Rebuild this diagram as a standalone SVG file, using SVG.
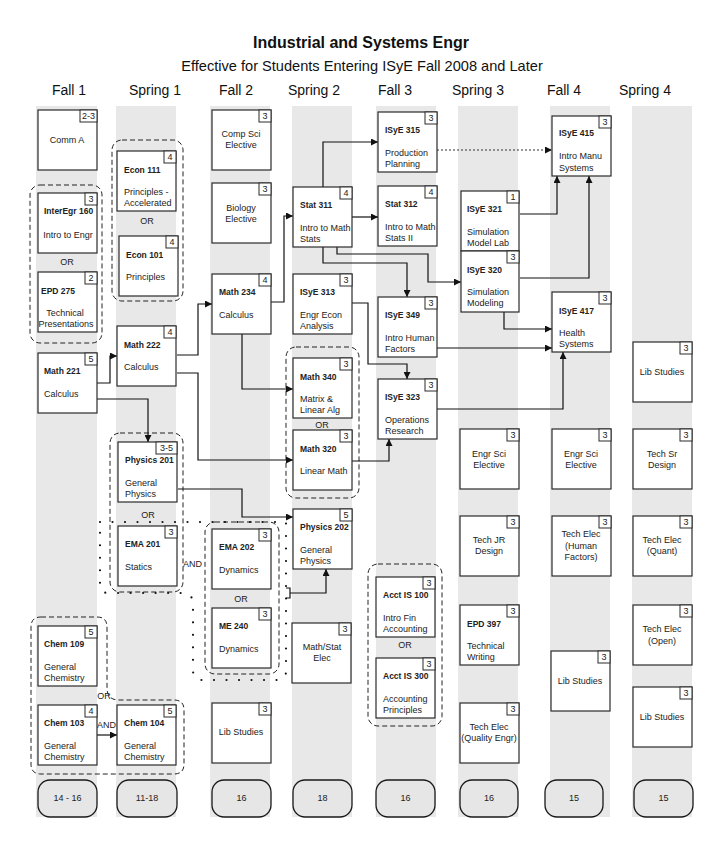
<svg xmlns="http://www.w3.org/2000/svg" width="719" height="859" viewBox="0 0 719 859">
  <defs>
    <style>
      .band{fill:#e8e8e8}
      .box{fill:#fff;stroke:#2a2a2a;stroke-width:1.2}
      .badge{fill:#fff;stroke:#2a2a2a;stroke-width:1}
      .cred{fill:#e6e6e6;stroke:#1a1a1a;stroke-width:1.3}
      .grp{fill:none;stroke:#222;stroke-width:1;stroke-dasharray:5 3}
      .and{fill:none;stroke:#111;stroke-width:2.2;stroke-linecap:round;stroke-dasharray:0 12.5}
      .t{font-family:"Liberation Sans",Arial,sans-serif;font-size:9px;fill:#222}
      .b{font-weight:bold;font-size:8.5px}
      .c{text-anchor:middle}
      .hd{font-family:"Liberation Sans",Arial,sans-serif;fill:#111}
      .wire{fill:none;stroke:#111;stroke-width:1.2}
      .dotted{fill:none;stroke:#333;stroke-width:1;stroke-dasharray:2 2}
    </style>
    <marker id="arr" viewBox="0 0 10 10" refX="10" refY="5" markerWidth="8" markerHeight="7" orient="auto" markerUnits="userSpaceOnUse">
      <path d="M0,0 L10,5 L0,10 z" fill="#111"/>
    </marker>
  </defs>
  <rect width="719" height="859" fill="#fff"/>

  <!-- headings -->
  <text class="hd b c" x="361" y="48" font-size="16" style="font-size:16px">Industrial and Systems Engr</text>
  <text class="hd c" x="362" y="71" font-size="14.6">Effective for Students Entering ISyE Fall 2008 and Later</text>
  <g class="hd c" font-size="14">
    <text x="69" y="95">Fall 1</text>
    <text x="155" y="95">Spring 1</text>
    <text x="236" y="95">Fall 2</text>
    <text x="314" y="95">Spring 2</text>
    <text x="395" y="95">Fall 3</text>
    <text x="478" y="95">Spring 3</text>
    <text x="564" y="95">Fall 4</text>
    <text x="645" y="95">Spring 4</text>
  </g>

  <!-- semester bands -->
  <g id="bands">
    <rect class="band" x="36" y="106" width="61" height="711"/>
    <rect class="band" x="116" y="106" width="60" height="711"/>
    <rect class="band" x="210" y="106" width="60" height="711"/>
    <rect class="band" x="292" y="106" width="60" height="711"/>
    <rect class="band" x="376" y="106" width="60" height="711"/>
    <rect class="band" x="458" y="106" width="60" height="711"/>
    <rect class="band" x="550" y="106" width="60" height="711"/>
    <rect class="band" x="632" y="106" width="60" height="711"/>
  </g>

  <!-- choice groups -->
  <g id="groups">
    <rect class="grp" x="30" y="185" width="72" height="158" rx="10"/>
    <rect class="grp" x="112" y="140" width="71" height="161" rx="10"/>
    <rect class="grp" x="110" y="433" width="73" height="159" rx="10"/>
    <rect class="grp" x="205" y="522" width="74" height="152" rx="10"/>
    <rect class="grp" x="286" y="347" width="73" height="151" rx="10"/>
    <rect class="grp" x="368" y="564" width="74" height="162" rx="10"/>
    <path class="grp" d="M41,617 H97 Q107,617 107,627 V688 Q107,700 119,700 H174 Q184,700 184,710 V764 Q184,774 174,774 H41 Q31,774 31,764 V627 Q31,617 41,617 Z"/>
    <path class="and" d="M100,522 H286 V671 Q286,680 277,680 H202 Q193,680 193,670 V605 Q193,593 183,593 H108 Q100,593 100,585 Z"/>
    <g class="t c">
      <text x="67" y="265">OR</text>
      <text x="147" y="224">OR</text>
      <text x="148" y="518">OR</text>
      <text x="241" y="602">OR</text>
      <text x="322" y="428">OR</text>
      <text x="405" y="648">OR</text>
      <text x="104" y="699">OR</text>
    </g>
    <text class="t" x="97" y="728">AND</text>
    <text class="t" x="183" y="567">AND</text>
  </g>

  <!-- connectors -->
  <g id="connectors">
    <path class="wire" d="M97,383 H110 V356 H117" marker-end="url(#arr)"/>
    <path class="wire" d="M97,399 H148 V442" marker-end="url(#arr)"/>
    <path class="wire" d="M177,355 H198 V304 H212" marker-end="url(#arr)"/>
    <path class="wire" d="M177,373 H198 V460 H293" marker-end="url(#arr)"/>
    <path class="wire" d="M242,334 V389 H293" marker-end="url(#arr)"/>
    <path class="wire" d="M178,489 H242 V517 H293" marker-end="url(#arr)"/>
    <path class="wire" d="M271,302 H284 V216 H293" marker-end="url(#arr)"/>
    <path class="wire" d="M323,187 V142 H378" marker-end="url(#arr)"/>
    <path class="wire" d="M352,217 H378" marker-end="url(#arr)"/>
    <path class="wire" d="M323,247 V263 H407 V297" marker-end="url(#arr)"/>
    <path class="wire" d="M337,247 V254 H428 V282 H461" marker-end="url(#arr)"/>
    <path class="wire" d="M352,303 H368 V364 H407 V379" marker-end="url(#arr)"/>
    <path class="wire" d="M352,461 H389 V439" marker-end="url(#arr)"/>
    <path class="dotted" d="M437,150 H552" marker-end="url(#arr)"/>
    <path class="wire" d="M520,214 H557 V176" marker-end="url(#arr)"/>
    <path class="wire" d="M520,278 H589 V176" marker-end="url(#arr)"/>
    <path class="wire" d="M504,312 V329 H552" marker-end="url(#arr)"/>
    <path class="wire" d="M437,348 H552" marker-end="url(#arr)"/>
    <path class="wire" d="M437,409 H563 V352" marker-end="url(#arr)"/>
    <path class="wire" d="M286,588 H290 V598 H286 M290,593 H326 V569" marker-end="url(#arr)"/>
    <path class="wire" d="M97,735 H117" marker-end="url(#arr)"/>
  </g>

  <!-- Fall 1 -->
  <g id="comm-a">
    <rect class="box" x="38" y="110" width="59" height="60"/>
    <rect class="badge" x="80" y="110" width="17" height="12"/>
    <text class="t c" x="88.5" y="119">2-3</text>
    <text class="t c" x="67" y="143">Comm A</text>
  </g>
  <g id="interegr-160">
    <rect class="box" x="38" y="193" width="59" height="60"/>
    <rect class="badge" x="85" y="193" width="12" height="12"/>
    <text class="t c" x="91" y="202">3</text>
    <text class="t b" x="44" y="214">InterEgr 160</text>
    <text class="t c" x="68" y="238">Intro to Engr</text>
  </g>
  <g id="epd-275">
    <rect class="box" x="38" y="272" width="59" height="60"/>
    <rect class="badge" x="85" y="272" width="12" height="12"/>
    <text class="t c" x="91" y="281">2</text>
    <text class="t b" x="41" y="294">EPD 275</text>
    <text class="t c" x="65" y="316">Technical</text>
    <text class="t c" x="66" y="327">Presentations</text>
  </g>
  <g id="math-221">
    <rect class="box" x="38" y="353" width="59" height="60"/>
    <rect class="badge" x="85" y="353" width="12" height="12"/>
    <text class="t c" x="91" y="362">5</text>
    <text class="t b" x="44" y="374">Math 221</text>
    <text class="t" x="44" y="397">Calculus</text>
  </g>
  <g id="chem-109">
    <rect class="box" x="38" y="626" width="59" height="60"/>
    <rect class="badge" x="85" y="626" width="12" height="12"/>
    <text class="t c" x="91" y="635">5</text>
    <text class="t b" x="44" y="647">Chem 109</text>
    <text class="t" x="44" y="670">General</text>
    <text class="t" x="44" y="681">Chemistry</text>
  </g>
  <g id="chem-103">
    <rect class="box" x="38" y="705" width="59" height="60"/>
    <rect class="badge" x="85" y="705" width="12" height="12"/>
    <text class="t c" x="91" y="714">4</text>
    <text class="t b" x="44" y="726">Chem 103</text>
    <text class="t" x="44" y="749">General</text>
    <text class="t" x="44" y="760">Chemistry</text>
  </g>

  <!-- Spring 1 -->
  <g id="econ-111">
    <rect class="box" x="117" y="151" width="59" height="60"/>
    <rect class="badge" x="164" y="151" width="12" height="12"/>
    <text class="t c" x="170" y="160">4</text>
    <text class="t b" x="124" y="173">Econ 111</text>
    <text class="t" x="124" y="195">Principles -</text>
    <text class="t" x="124" y="206">Accelerated</text>
  </g>
  <g id="econ-101">
    <rect class="box" x="119" y="236" width="59" height="60"/>
    <rect class="badge" x="166" y="236" width="12" height="12"/>
    <text class="t c" x="172" y="245">4</text>
    <text class="t b" x="126" y="258">Econ 101</text>
    <text class="t" x="126" y="280">Principles</text>
  </g>
  <g id="math-222">
    <rect class="box" x="117" y="326" width="59" height="60"/>
    <rect class="badge" x="164" y="326" width="12" height="12"/>
    <text class="t c" x="170" y="335">4</text>
    <text class="t b" x="124" y="348">Math 222</text>
    <text class="t" x="124" y="370">Calculus</text>
  </g>
  <g id="physics-201">
    <rect class="box" x="118" y="442" width="59" height="60"/>
    <rect class="badge" x="156" y="442" width="21" height="12"/>
    <text class="t c" x="166.5" y="451">3-5</text>
    <text class="t b" x="125" y="463">Physics 201</text>
    <text class="t" x="125" y="486">General</text>
    <text class="t" x="125" y="497">Physics</text>
  </g>
  <g id="ema-201">
    <rect class="box" x="118" y="526" width="59" height="60"/>
    <rect class="badge" x="165" y="526" width="12" height="12"/>
    <text class="t c" x="171" y="535">3</text>
    <text class="t b" x="125" y="547">EMA 201</text>
    <text class="t" x="125" y="570">Statics</text>
  </g>
  <g id="chem-104">
    <rect class="box" x="117" y="705" width="59" height="60"/>
    <rect class="badge" x="164" y="705" width="12" height="12"/>
    <text class="t c" x="170" y="714">5</text>
    <text class="t b" x="124" y="726">Chem 104</text>
    <text class="t" x="124" y="749">General</text>
    <text class="t" x="124" y="760">Chemistry</text>
  </g>

  <!-- Fall 2 -->
  <g id="comp-sci-elective">
    <rect class="box" x="212" y="110" width="59" height="60"/>
    <rect class="badge" x="259" y="110" width="12" height="12"/>
    <text class="t c" x="265" y="119">3</text>
    <text class="t c" x="241" y="137">Comp Sci</text>
    <text class="t c" x="241" y="148">Elective</text>
  </g>
  <g id="biology-elective">
    <rect class="box" x="212" y="183" width="59" height="60"/>
    <rect class="badge" x="259" y="183" width="12" height="12"/>
    <text class="t c" x="265" y="192">3</text>
    <text class="t c" x="241" y="211">Biology</text>
    <text class="t c" x="241" y="222">Elective</text>
  </g>
  <g id="math-234">
    <rect class="box" x="212" y="274" width="59" height="60"/>
    <rect class="badge" x="259" y="274" width="12" height="12"/>
    <text class="t c" x="265" y="283">4</text>
    <text class="t b" x="219" y="295">Math 234</text>
    <text class="t" x="219" y="318">Calculus</text>
  </g>
  <g id="ema-202">
    <rect class="box" x="212" y="529" width="59" height="60"/>
    <rect class="badge" x="259" y="529" width="12" height="12"/>
    <text class="t c" x="265" y="538">3</text>
    <text class="t b" x="219" y="550">EMA 202</text>
    <text class="t" x="219" y="573">Dynamics</text>
  </g>
  <g id="me-240">
    <rect class="box" x="212" y="608" width="59" height="60"/>
    <rect class="badge" x="259" y="608" width="12" height="12"/>
    <text class="t c" x="265" y="617">3</text>
    <text class="t b" x="219" y="629">ME 240</text>
    <text class="t" x="219" y="652">Dynamics</text>
  </g>
  <g id="lib-studies-f2">
    <rect class="box" x="212" y="703" width="59" height="60"/>
    <rect class="badge" x="259" y="703" width="12" height="12"/>
    <text class="t c" x="265" y="712">3</text>
    <text class="t c" x="241" y="735">Lib Studies</text>
  </g>

  <!-- Spring 2 -->
  <g id="stat-311">
    <rect class="box" x="293" y="187" width="59" height="60"/>
    <rect class="badge" x="340" y="187" width="12" height="12"/>
    <text class="t c" x="346" y="196">4</text>
    <text class="t b" x="300" y="208">Stat 311</text>
    <text class="t" x="300" y="231">Intro to Math</text>
    <text class="t" x="300" y="242">Stats</text>
  </g>
  <g id="isye-313">
    <rect class="box" x="293" y="274" width="59" height="60"/>
    <rect class="badge" x="340" y="274" width="12" height="12"/>
    <text class="t c" x="346" y="283">3</text>
    <text class="t b" x="300" y="295">ISyE 313</text>
    <text class="t" x="300" y="318">Engr Econ</text>
    <text class="t" x="300" y="329">Analysis</text>
  </g>
  <g id="math-340">
    <rect class="box" x="293" y="358" width="59" height="60"/>
    <rect class="badge" x="340" y="358" width="12" height="12"/>
    <text class="t c" x="346" y="367">3</text>
    <text class="t b" x="300" y="380">Math 340</text>
    <text class="t" x="300" y="402">Matrix &amp;</text>
    <text class="t" x="300" y="413">Linear Alg</text>
  </g>
  <g id="math-320">
    <rect class="box" x="293" y="430" width="59" height="60"/>
    <rect class="badge" x="340" y="430" width="12" height="12"/>
    <text class="t c" x="346" y="439">3</text>
    <text class="t b" x="300" y="452">Math 320</text>
    <text class="t" x="300" y="474">Linear Math</text>
  </g>
  <g id="physics-202">
    <rect class="box" x="293" y="509" width="59" height="60"/>
    <rect class="badge" x="340" y="509" width="12" height="12"/>
    <text class="t c" x="346" y="518">5</text>
    <text class="t b" x="300" y="530">Physics 202</text>
    <text class="t" x="300" y="553">General</text>
    <text class="t" x="300" y="564">Physics</text>
  </g>
  <g id="math-stat-elec">
    <rect class="box" x="292" y="623" width="59" height="60"/>
    <rect class="badge" x="339" y="623" width="12" height="12"/>
    <text class="t c" x="345" y="632">3</text>
    <text class="t c" x="322" y="650">Math/Stat</text>
    <text class="t c" x="322" y="661">Elec</text>
  </g>

  <!-- Fall 3 -->
  <g id="isye-315">
    <rect class="box" x="378" y="112" width="59" height="60"/>
    <rect class="badge" x="425" y="112" width="12" height="12"/>
    <text class="t c" x="431" y="121">3</text>
    <text class="t b" x="385" y="133">ISyE 315</text>
    <text class="t" x="385" y="156">Production</text>
    <text class="t" x="385" y="167">Planning</text>
  </g>
  <g id="stat-312">
    <rect class="box" x="378" y="186" width="59" height="60"/>
    <rect class="badge" x="425" y="186" width="12" height="12"/>
    <text class="t c" x="431" y="195">4</text>
    <text class="t b" x="385" y="207">Stat 312</text>
    <text class="t" x="385" y="230">Intro to Math</text>
    <text class="t" x="385" y="241">Stats II</text>
  </g>
  <g id="isye-349">
    <rect class="box" x="378" y="297" width="59" height="60"/>
    <rect class="badge" x="425" y="297" width="12" height="12"/>
    <text class="t c" x="431" y="306">3</text>
    <text class="t b" x="385" y="318">ISyE 349</text>
    <text class="t" x="385" y="341">Intro Human</text>
    <text class="t" x="385" y="352">Factors</text>
  </g>
  <g id="isye-323">
    <rect class="box" x="378" y="379" width="59" height="60"/>
    <rect class="badge" x="425" y="379" width="12" height="12"/>
    <text class="t c" x="431" y="388">3</text>
    <text class="t b" x="385" y="400">ISyE 323</text>
    <text class="t" x="385" y="423">Operations</text>
    <text class="t" x="385" y="434">Research</text>
  </g>
  <g id="acct-is-100">
    <rect class="box" x="376" y="577" width="59" height="60"/>
    <rect class="badge" x="423" y="577" width="12" height="12"/>
    <text class="t c" x="429" y="586">3</text>
    <text class="t b" x="383" y="598">Acct IS 100</text>
    <text class="t" x="383" y="621">Intro Fin</text>
    <text class="t" x="383" y="632">Accounting</text>
  </g>
  <g id="acct-is-300">
    <rect class="box" x="376" y="658" width="59" height="60"/>
    <rect class="badge" x="423" y="658" width="12" height="12"/>
    <text class="t c" x="429" y="667">3</text>
    <text class="t b" x="383" y="679">Acct IS 300</text>
    <text class="t" x="383" y="702">Accounting</text>
    <text class="t" x="383" y="713">Principles</text>
  </g>

  <!-- Spring 3 -->
  <g id="isye-321">
    <rect class="box" x="461" y="191" width="58" height="60"/>
    <rect class="badge" x="507" y="191" width="12" height="12"/>
    <text class="t c" x="513" y="200">1</text>
    <text class="t b" x="467" y="212">ISyE 321</text>
    <text class="t" x="467" y="235">Simulation</text>
    <text class="t" x="467" y="246">Model Lab</text>
  </g>
  <g id="isye-320">
    <rect class="box" x="461" y="251" width="58" height="61"/>
    <rect class="badge" x="507" y="251" width="12" height="12"/>
    <text class="t c" x="513" y="260">3</text>
    <text class="t b" x="467" y="273">ISyE 320</text>
    <text class="t" x="467" y="295">Simulation</text>
    <text class="t" x="467" y="306">Modeling</text>
  </g>
  <g id="engr-sci-elective-s3">
    <rect class="box" x="460" y="429" width="59" height="60"/>
    <rect class="badge" x="507" y="429" width="12" height="12"/>
    <text class="t c" x="513" y="438">3</text>
    <text class="t c" x="489" y="457">Engr Sci</text>
    <text class="t c" x="489" y="468">Elective</text>
  </g>
  <g id="tech-jr-design">
    <rect class="box" x="460" y="516" width="59" height="60"/>
    <rect class="badge" x="507" y="516" width="12" height="12"/>
    <text class="t c" x="513" y="525">3</text>
    <text class="t c" x="489" y="543">Tech JR</text>
    <text class="t c" x="489" y="554">Design</text>
  </g>
  <g id="epd-397">
    <rect class="box" x="460" y="605" width="59" height="60"/>
    <rect class="badge" x="507" y="605" width="12" height="12"/>
    <text class="t c" x="513" y="614">3</text>
    <text class="t b" x="467" y="627">EPD 397</text>
    <text class="t" x="467" y="649">Technical</text>
    <text class="t" x="467" y="660">Writing</text>
  </g>
  <g id="tech-elec-quality">
    <rect class="box" x="460" y="703" width="59" height="60"/>
    <rect class="badge" x="507" y="703" width="12" height="12"/>
    <text class="t c" x="513" y="712">3</text>
    <text class="t c" x="489" y="730">Tech Elec</text>
    <text class="t c" x="489" y="741">(Quality Engr)</text>
  </g>

  <!-- Fall 4 -->
  <g id="isye-415">
    <rect class="box" x="552" y="116" width="59" height="60"/>
    <rect class="badge" x="599" y="116" width="12" height="12"/>
    <text class="t c" x="605" y="125">3</text>
    <text class="t b" x="559" y="136">ISyE 415</text>
    <text class="t" x="559" y="159">Intro Manu</text>
    <text class="t" x="559" y="171">Systems</text>
  </g>
  <g id="isye-417">
    <rect class="box" x="552" y="292" width="59" height="60"/>
    <rect class="badge" x="599" y="292" width="12" height="12"/>
    <text class="t c" x="605" y="301">3</text>
    <text class="t b" x="559" y="314">ISyE 417</text>
    <text class="t" x="559" y="336">Health</text>
    <text class="t" x="559" y="347">Systems</text>
  </g>
  <g id="engr-sci-elective-f4">
    <rect class="box" x="552" y="429" width="59" height="60"/>
    <rect class="badge" x="599" y="429" width="12" height="12"/>
    <text class="t c" x="605" y="438">3</text>
    <text class="t c" x="581" y="457">Engr Sci</text>
    <text class="t c" x="581" y="468">Elective</text>
  </g>
  <g id="tech-elec-hf">
    <rect class="box" x="552" y="516" width="59" height="60"/>
    <rect class="badge" x="599" y="516" width="12" height="12"/>
    <text class="t c" x="605" y="525">3</text>
    <text class="t c" x="581" y="537">Tech Elec</text>
    <text class="t c" x="581" y="549">(Human</text>
    <text class="t c" x="581" y="560">Factors)</text>
  </g>
  <g id="lib-studies-f4">
    <rect class="box" x="551" y="651" width="59" height="60"/>
    <rect class="badge" x="598" y="651" width="12" height="12"/>
    <text class="t c" x="604" y="660">3</text>
    <text class="t c" x="580" y="684">Lib Studies</text>
  </g>

  <!-- Spring 4 -->
  <g id="lib-studies-s4a">
    <rect class="box" x="633" y="342" width="59" height="60"/>
    <rect class="badge" x="680" y="342" width="12" height="12"/>
    <text class="t c" x="686" y="351">3</text>
    <text class="t c" x="662" y="375">Lib Studies</text>
  </g>
  <g id="tech-sr-design">
    <rect class="box" x="633" y="429" width="59" height="60"/>
    <rect class="badge" x="680" y="429" width="12" height="12"/>
    <text class="t c" x="686" y="438">3</text>
    <text class="t c" x="662" y="457">Tech Sr</text>
    <text class="t c" x="662" y="468">Design</text>
  </g>
  <g id="tech-elec-quant">
    <rect class="box" x="633" y="516" width="59" height="60"/>
    <rect class="badge" x="680" y="516" width="12" height="12"/>
    <text class="t c" x="686" y="525">3</text>
    <text class="t c" x="662" y="543">Tech Elec</text>
    <text class="t c" x="662" y="554">(Quant)</text>
  </g>
  <g id="tech-elec-open">
    <rect class="box" x="633" y="605" width="59" height="60"/>
    <rect class="badge" x="680" y="605" width="12" height="12"/>
    <text class="t c" x="686" y="614">3</text>
    <text class="t c" x="662" y="632">Tech Elec</text>
    <text class="t c" x="662" y="644">(Open)</text>
  </g>
  <g id="lib-studies-s4b">
    <rect class="box" x="633" y="687" width="59" height="60"/>
    <rect class="badge" x="680" y="687" width="12" height="12"/>
    <text class="t c" x="686" y="696">3</text>
    <text class="t c" x="662" y="720">Lib Studies</text>
  </g>

  <!-- semester credit totals -->
  <g id="credits">
    <rect class="cred" x="38" y="780" width="59" height="37" rx="12"/>
    <rect class="cred" x="117" y="780" width="60" height="37" rx="12"/>
    <rect class="cred" x="212" y="780" width="59" height="37" rx="12"/>
    <rect class="cred" x="293" y="780" width="59" height="37" rx="12"/>
    <rect class="cred" x="376" y="780" width="59" height="37" rx="12"/>
    <rect class="cred" x="460" y="780" width="58" height="37" rx="12"/>
    <rect class="cred" x="545" y="780" width="58" height="37" rx="12"/>
    <rect class="cred" x="634" y="780" width="59" height="37" rx="12"/>
    <g class="t c" font-size="10">
      <text x="67.5" y="801">14 - 16</text>
      <text x="147" y="801">11-18</text>
      <text x="241.5" y="801">16</text>
      <text x="322.5" y="801">18</text>
      <text x="405.5" y="801">16</text>
      <text x="489" y="801">16</text>
      <text x="574" y="801">15</text>
      <text x="663.5" y="801">15</text>
    </g>
  </g>
</svg>
